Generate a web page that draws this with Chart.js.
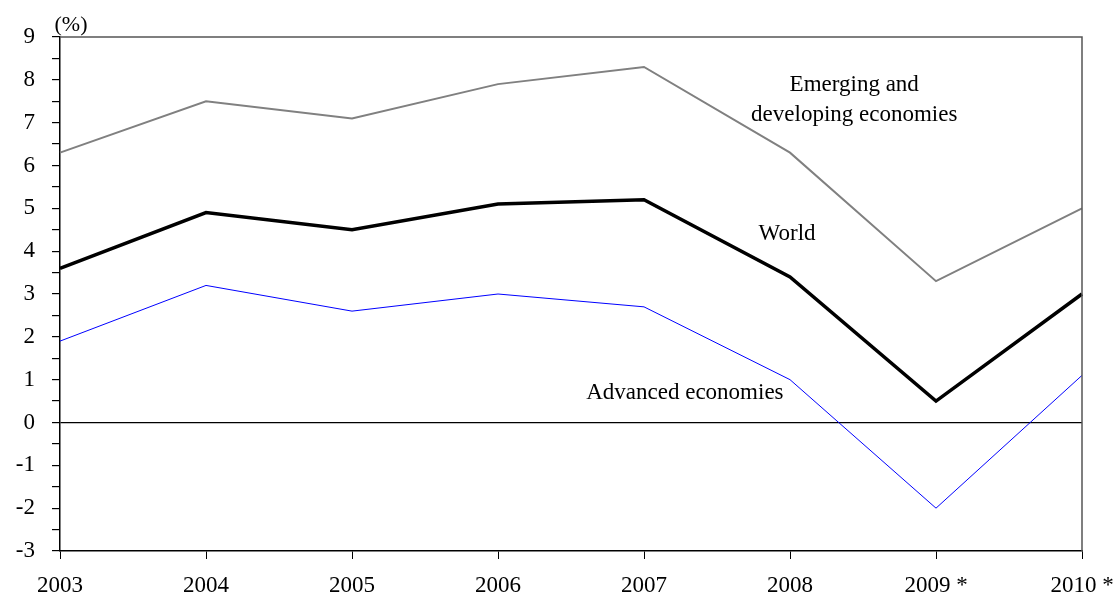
<!DOCTYPE html>
<html>
<head>
<meta charset="utf-8">
<script src="https://cdn.jsdelivr.net/npm/chart.js@4/dist/chart.umd.min.js"></script>
<style>
  html, body { margin: 0; padding: 0; background: #fff; }
  #wrap { width: 1117px; height: 602px; }
</style>
</head>
<body>
<div id="wrap"><canvas id="myChart"></canvas></div>
<script>
const years = ['2003', '2004', '2005', '2006', '2007', '2008', '2009 *', '2010 *'];
const emerging = [6.3, 7.5, 7.1, 7.9, 8.3, 6.3, 3.3, 5.0];
const world = [3.6, 4.9, 4.5, 5.1, 5.2, 3.4, 0.5, 3.0];
const advanced = [1.9, 3.2, 2.6, 3.0, 2.7, 1.0, -2.0, 1.1];

// text labels placed on the lines: [text lines, x index, y value]
const notes = [
    [['Emerging and', 'developing economies'], 5.44, 7.52],
    [['World'], 4.98, 4.40],
    [['Advanced economies'], 4.28, 0.70]
];

const font = 'Liberation Serif, Times New Roman, serif';

const extras = {
    id: 'extras',
    afterDraw(chart) {
        const c = chart.ctx;
        const a = chart.chartArea;
        const x = chart.scales.x;
        const y = chart.scales.y;
        c.save();
        // top and right frame
        c.strokeStyle = '#555';
        c.lineWidth = 1.5;
        c.beginPath();
        c.moveTo(a.left, a.top);
        c.lineTo(a.right, a.top);
        c.lineTo(a.right, a.bottom);
        c.stroke();

        c.fillStyle = '#000';
        c.font = '22px ' + font;
        c.textAlign = 'center';
        c.textBaseline = 'middle';
        c.fillText('(%)', a.left + 11, a.top - 12);

        c.font = '23px ' + font;
        notes.forEach(([lines, xi, yv]) => {
            const px = x.getPixelForValue(xi);
            const py = y.getPixelForValue(yv);
            const h = 30;
            lines.forEach((t, i) => {
                c.fillText(t, px, py + (i - (lines.length - 1) / 2) * h);
            });
        });
        c.restore();
    }
};

new Chart(document.getElementById('myChart'), {
    type: 'line',
    data: {
        labels: years,
        datasets: [
            { label: 'Emerging and developing economies', data: emerging, borderColor: '#808080', borderWidth: 2 },
            { label: 'World', data: world, borderColor: '#000000', borderWidth: 3.5 },
            { label: 'Advanced economies', data: advanced, borderColor: '#0000ff', borderWidth: 1 }
        ]
    },
    options: {
        responsive: true,
        maintainAspectRatio: false,
        animation: false,
        elements: {
            point: { radius: 0 },
            line: { tension: 0, borderJoinStyle: 'miter' }
        },
        layout: {
            padding: { top: 37, right: 35, left: 0, bottom: 0 }
        },
        plugins: {
            legend: { display: false },
            tooltip: { enabled: false }
        },
        scales: {
            x: {
                offset: false,
                afterFit(scale) {
                    scale.height = 51;
                    scale.paddingLeft = 0;
                    scale.paddingRight = 0;
                },
                grid: {
                    drawOnChartArea: false,
                    tickLength: 8,
                    tickColor: '#000'
                },
                border: { color: '#000', width: 1.5 },
                ticks: {
                    color: '#000',
                    font: { family: font, size: 23 },
                    padding: 13,
                    maxRotation: 0,
                    autoSkip: false
                }
            },
            y: {
                min: -3,
                max: 9,
                afterFit(scale) { scale.width = 60; },
                grid: {
                    drawOnChartArea: true,
                    color: ctx => ctx.tick && ctx.tick.value === 0 ? '#000' : 'rgba(0,0,0,0)',
                    tickColor: '#000',
                    tickLength: 8,
                    lineWidth: 1.2
                },
                border: { color: '#000', width: 1.5 },
                ticks: {
                    stepSize: 0.5,
                    color: '#000',
                    font: { family: font, size: 23 },
                    padding: 17,
                    autoSkip: false,
                    callback: v => Number.isInteger(v) ? String(v) : ''
                }
            }
        }
    },
    plugins: [extras]
});
</script>
</body>
</html>
